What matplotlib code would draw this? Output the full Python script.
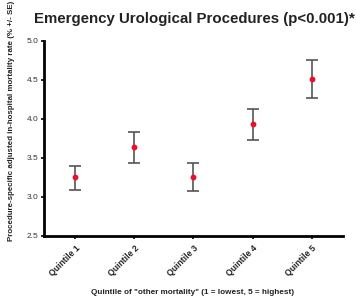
import matplotlib
matplotlib.use("Agg")
import matplotlib.pyplot as plt

categories = ["Quintile 1", "Quintile 2", "Quintile 3", "Quintile 4", "Quintile 5"]
means = [3.25, 3.64, 3.25, 3.93, 4.51]
upper = [3.40, 3.83, 3.43, 4.12, 4.75]
lower = [3.09, 3.44, 3.07, 3.73, 4.27]
yticks = [2.5, 3.0, 3.5, 4.0, 4.5, 5.0]

plt.rcParams['font.family'] = ['Liberation Sans', 'DejaVu Sans']
fig = plt.figure(figsize=(3.56, 3.01), dpi=100)
ax = fig.add_axes([0.124, 0.216, 0.839, 0.649])
x = list(range(len(categories)))
err = [[m - l for m, l in zip(means, lower)], [u - m for m, u in zip(means, upper)]]
ax.errorbar(x, means, yerr=err, fmt='o', color='#444444', ecolor='#555555',
            elinewidth=1.2, capsize=4.5, capthick=1.2, markersize=3.2,
            markerfacecolor='#e8102a', markeredgecolor='#e8102a')
ax.set_xlim(-0.53, 4.53)
ax.set_ylim(2.5, 5.0)
ax.set_yticks(yticks)
ax.set_yticklabels([f"{v:.1f}" for v in yticks], fontsize=6, color='#333333')
ax.set_xticks(x)
ax.set_xticklabels(categories, rotation=45, ha='right', rotation_mode='anchor',
                   fontsize=6.2, fontweight='bold', color='#222222')
for s in ['top', 'right']:
    ax.spines[s].set_visible(False)
for s in ['left', 'bottom']:
    ax.spines[s].set_linewidth(2)
ax.tick_params(axis='both', length=2.5, width=1.2, pad=1.5)
ax.tick_params(axis='x', pad=3)
fig.text(0.033, 0.598, "Procedure-specific adjusted in-hospital mortality rate (% +/- SE)",
         rotation=90, ha='center', va='center',
         fontsize=5.65, fontweight='bold', color='#222222')
fig.text(0.54, 0.027, 'Quintile of "other mortality" (1 = lowest, 5 = highest)',
         ha='center', va='center', fontsize=5.9, fontweight='bold', color='#222222')
fig.text(0.546, 0.937, "Emergency Urological Procedures (p<0.001)*",
         ha='center', va='center', fontsize=10.8, fontweight='bold', color='#222222')
fig.savefig("out.png", dpi=100)
